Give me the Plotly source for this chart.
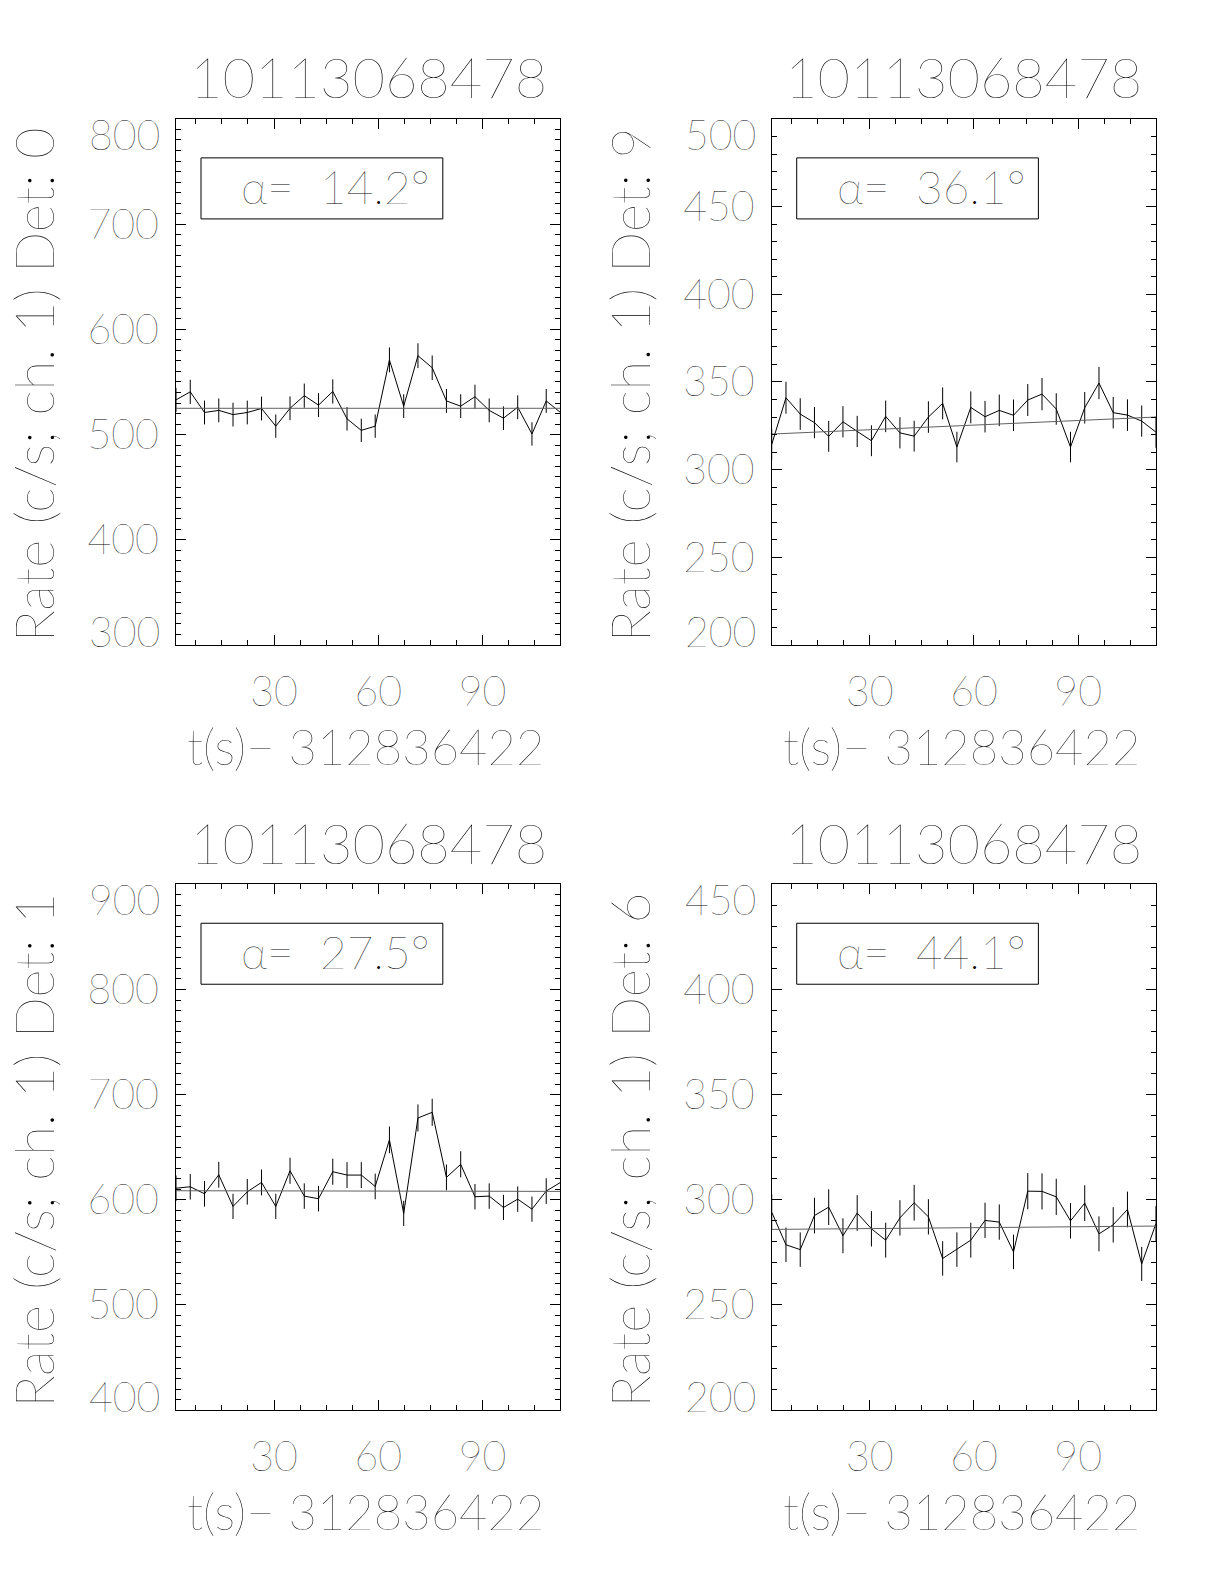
import plotly.graph_objects as go

# ---------------- data ----------------
t_sec = [1.8, 5.9, 10.0, 14.1, 18.2, 22.3, 26.4, 30.5, 34.6, 38.7, 42.8, 46.9, 51.0, 55.1,
         59.1, 63.2, 67.3, 71.4, 75.5, 79.6, 83.7, 87.8, 91.9, 96.0, 100.1, 104.2, 108.3, 112.4]
fit_t = [1.8, 112.4]

rate_det0 = [533, 540.6, 521, 523, 519, 521, 524.8, 508, 525, 537, 528, 541, 515, 504,
             508, 571, 527, 575, 563.5, 532, 527, 536, 523, 515.6, 526, 500.6, 532, 521]
err_det0 = [11.4, 11.5, 11.3, 11.3, 11.3, 11.3, 11.3, 11.1, 11.3, 11.5, 11.4, 11.5, 11.2, 11.1,
            11.1, 11.8, 11.3, 11.8, 11.7, 11.4, 11.3, 11.4, 11.3, 11.2, 11.3, 11.1, 11.4, 11.3]
fit_det0 = [525.0, 525.0]

rate_det9 = [314.4, 341.0, 331.7, 326.8, 319.0, 327.3, 321.8, 316.5, 330.4, 321.0, 319.1, 330.0, 337.8, 312.9,
             335.5, 330.2, 333.8, 331.0, 339.7, 343.1, 334.6, 312.9, 335.3, 349.4, 332.5, 331.1, 327.7, 321.4]
err_det9 = [8.8, 9.1, 9.0, 8.9, 8.8, 8.9, 8.9, 8.8, 9.0, 8.9, 8.8, 9.0, 9.1, 8.7,
            9.1, 9.0, 9.0, 9.0, 9.1, 9.2, 9.0, 8.7, 9.0, 9.2, 9.0, 9.0, 8.9, 8.9]
fit_det9 = [320.3, 330.0]

rate_det1 = [611.0, 612.4, 605.7, 623.8, 593.7, 607.6, 616.5, 593.7, 627.6, 603.5, 601.0, 626.7, 623.5, 623.5,
             612.7, 657.0, 587.0, 677.8, 683.2, 621.3, 633.7, 602.9, 603.5, 592.7, 600.6, 591.1, 608.3, 616.5]
err_det1 = [12.2, 12.2, 12.2, 12.3, 12.0, 12.2, 12.3, 12.0, 12.4, 12.1, 12.1, 12.4, 12.3, 12.3,
            12.2, 12.7, 12.0, 12.9, 12.9, 12.3, 12.4, 12.1, 12.1, 12.0, 12.1, 12.0, 12.2, 12.3]
fit_det1 = [608.6, 608.0]

rate_det6 = [294.1, 278.6, 276.3, 292.5, 296.5, 282.9, 293.7, 286.2, 280.8, 291.4, 298.6, 291.9, 272.1, 276.3,
             280.8, 290.2, 289.4, 275.2, 304.1, 304.0, 301.4, 290.0, 298.4, 283.8, 288.1, 295.4, 269.5, 288.7]
err_det6 = [8.5, 8.2, 8.2, 8.5, 8.5, 8.3, 8.5, 8.4, 8.3, 8.4, 8.5, 8.4, 8.2, 8.2,
            8.3, 8.4, 8.4, 8.2, 8.6, 8.6, 8.6, 8.4, 8.5, 8.3, 8.4, 8.5, 8.1, 8.4]
fit_det6 = [285.9, 287.5]

obs_id = "10113068478"
x_title = "t(s)\u2212 312836422"
x_tickvals = [30, 60, 90]
x_range = [1.8, 112.4]

panels = [
    dict(det="0", alpha="14.2", rate=rate_det0, err=err_det0, fit=fit_det0,
         yr=[300, 800], dt=100, xd=[0.1438, 0.4579], yd=[0.5928, 0.9249]),
    dict(det="9", alpha="36.1", rate=rate_det9, err=err_det9, fit=fit_det9,
         yr=[200, 500], dt=50, xd=[0.6305, 0.9444], yd=[0.5928, 0.9249]),
    dict(det="1", alpha="27.5", rate=rate_det1, err=err_det1, fit=fit_det1,
         yr=[400, 900], dt=100, xd=[0.1438, 0.4579], yd=[0.1098, 0.4417]),
    dict(det="6", alpha="44.1", rate=rate_det6, err=err_det6, fit=fit_det6,
         yr=[200, 450], dt=50, xd=[0.6305, 0.9444], yd=[0.1098, 0.4417]),
]

FONT = "Lato"
W = 200
INK = "#000000"

fig = go.Figure()
annotations = []
shapes = []

for i, p in enumerate(panels):
    k = "" if i == 0 else str(i + 1)
    xa, ya = "x" + k, "y" + k
    fig.add_trace(go.Scatter(
        x=t_sec, y=p["rate"], xaxis=xa, yaxis=ya, mode="lines",
        line=dict(color=INK, width=1),
        error_y=dict(type="data", array=p["err"], visible=True, color=INK,
                     thickness=1, width=0),
        hoverinfo="x+y"))
    fig.add_trace(go.Scatter(
        x=fit_t, y=p["fit"], xaxis=xa, yaxis=ya, mode="lines",
        line=dict(color="#606060", width=1), hoverinfo="skip"))

    y0, y1 = p["yr"]
    yvals = list(range(y0, y1 + 1, p["dt"]))
    ytext = [str(v) for v in yvals]
    ytext[0] = ""
    ytext[-1] = ""
    tf = dict(family=FONT, size=41, color=INK, weight=W)

    fig.layout["xaxis" + k] = dict(
        domain=p["xd"], anchor=ya, range=x_range,
        tickmode="array", tickvals=x_tickvals,
        ticks="inside", ticklen=10, tickwidth=1, tickcolor=INK,
        showline=True, linecolor=INK, linewidth=1, mirror="ticks",
        showgrid=False, zeroline=False,
        minor=dict(ticks="inside", ticklen=5, tickwidth=1, tickcolor=INK,
                   tick0=0, dtick=7.5, showgrid=False),
        tickfont=tf, ticklabelstandoff=11)
    fig.layout["yaxis" + k] = dict(
        domain=p["yd"], anchor=xa, range=p["yr"],
        tickmode="array", tickvals=yvals, ticktext=ytext,
        ticks="inside", ticklen=10, tickwidth=1, tickcolor=INK,
        showline=True, linecolor=INK, linewidth=1, mirror="ticks",
        showgrid=False, zeroline=False,
        minor=dict(ticks="inside", ticklen=5, tickwidth=1, tickcolor=INK,
                   tick0=0, dtick=10, showgrid=False),
        tickfont=tf, ticklabelstandoff=8)

    xdom, ydom = xa + " domain", ya + " domain"
    annotations.append(dict(text=str(y1), xref=xdom, yref=ya, x=0, y=y1,
                            xanchor="right", yanchor="top", xshift=-14, yshift=11,
                            showarrow=False, font=tf))
    annotations.append(dict(text=str(y0), xref=xdom, yref=ya, x=0, y=y0,
                            xanchor="right", yanchor="bottom", xshift=-14, yshift=-13,
                            showarrow=False, font=tf))
    annotations.append(dict(text=obs_id, xref=xdom, yref=ydom, x=0.5, y=1.08,
                            xanchor="center", yanchor="middle", showarrow=False,
                            font=dict(family=FONT, size=56, color=INK, weight=W)))
    annotations.append(dict(text=x_title, xref=xdom, yref=ydom, x=0.494, y=-0.192,
                            xanchor="center", yanchor="middle", showarrow=False,
                            font=dict(family=FONT, size=49, color=INK, weight=W)))
    annotations.append(dict(text="Rate (c/s; ch. 1) Det: " + p["det"], xref=xdom, yref=ydom,
                            x=-0.37, y=0.495, textangle=-90,
                            xanchor="center", yanchor="middle", showarrow=False,
                            font=dict(family=FONT, size=54, color=INK, weight=W)))
    shapes.append(dict(type="rect", xref=xdom, yref=ydom, x0=0.065, x1=0.694,
                       y0=0.81, y1=0.926, line=dict(color=INK, width=1)))
    annotations.append(dict(text="\u03b1=\u00a0\u00a0" + p["alpha"] + "\u00b0",
                            xref=xdom, yref=ydom, x=0.415, y=0.872,
                            xanchor="center", yanchor="middle", showarrow=False,
                            font=dict(family=FONT, size=46, color=INK, weight=W)))

fig.update_layout(
    width=1224, height=1584,
    margin=dict(l=0, r=0, t=0, b=0),
    paper_bgcolor="white", plot_bgcolor="white",
    showlegend=False,
    annotations=annotations, shapes=shapes,
)

fig.write_html("out.html", config={"displayModeBar": False},
               post_script="document.body.style.margin='0';document.body.style.overflow='hidden';")
